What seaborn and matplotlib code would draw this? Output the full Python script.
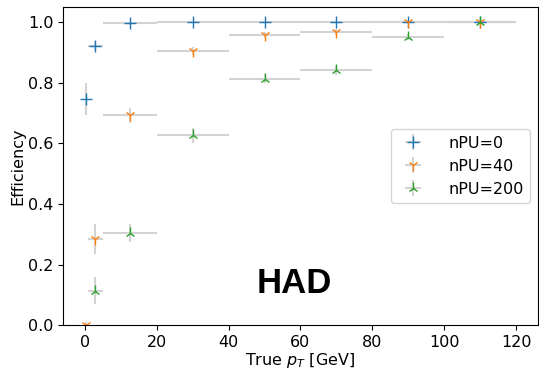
import matplotlib
matplotlib.use("Agg")
import matplotlib.pyplot as plt
import numpy as np
import seaborn as sns

# bin edges in true pT [GeV]
bin_lo = [0, 1, 5, 20, 40, 60, 80, 100]
bin_hi = [1, 5, 20, 40, 60, 80, 100, 120]

labels = ["nPU=0", "nPU=40", "nPU=200"]
markers = ["+", "1", "2"]

eff_pu0 = [0.747, 0.921, 0.996, 1.0, 1.0, 1.0, 1.0, 1.0]
err_pu0 = [0.053, 0.012, 0.006, 0.004, 0.004, 0.004, 0.004, 0.004]
eff_pu40 = [0.0, 0.285, 0.692, 0.905, 0.958, 0.968, 1.0, 1.0]
err_pu40 = [0.01, 0.05, 0.026, 0.012, 0.01, 0.01, 0.006, 0.006]
# first bin has no entry for nPU=200
eff_pu200 = [np.nan, 0.114, 0.304, 0.626, 0.813, 0.841, 0.951, 1.0]
err_pu200 = [np.nan, 0.045, 0.03, 0.026, 0.015, 0.014, 0.01, 0.006]

effs = [eff_pu0, eff_pu40, eff_pu200]
errs = [err_pu0, err_pu40, err_pu200]

sns.set_style("ticks")
plt.rcParams["font.family"] = ["DejaVu Sans"]
for k in ["text.color", "axes.labelcolor", "xtick.color", "ytick.color", "axes.edgecolor"]:
    plt.rcParams[k] = "black"
colors = sns.color_palette("tab10", 3)

lo = np.array(bin_lo, dtype=float)
hi = np.array(bin_hi, dtype=float)
centers = (lo + hi) / 2
half = (hi - lo) / 2

fig = plt.figure(figsize=(5.39, 3.69), dpi=100)
ax = fig.add_axes([0.117, 0.119, 0.881, 0.862])

for lab, mk, col, e, de in zip(labels, markers, colors, effs, errs):
    ax.errorbar(centers, e, xerr=half, yerr=de, fmt=mk, color=col,
                ecolor="lightgray", elinewidth=1.5, markersize=8,
                markeredgewidth=1.0, label=lab)

ax.set_ylim(0, 1.05)
ax.set_xlim(-6, 126)
ax.set_xticks([0, 20, 40, 60, 80, 100, 120])
ax.set_yticks([0.0, 0.2, 0.4, 0.6, 0.8, 1.0])
ax.tick_params(labelsize=11.5)
ax.set_xlabel("True $p_T$ [GeV]", fontsize=11.5, labelpad=1)
ax.set_ylabel("Efficiency", fontsize=11.5, labelpad=2)

ax.legend(loc="center right", fontsize=11.5, handletextpad=1.2)
ax.text(0.486, 0.13, "HAD", transform=ax.transAxes, ha="center", va="center",
        fontsize=25, fontweight="bold", color="black", family=["Liberation Sans"])

fig.savefig("out.png", dpi=100)
